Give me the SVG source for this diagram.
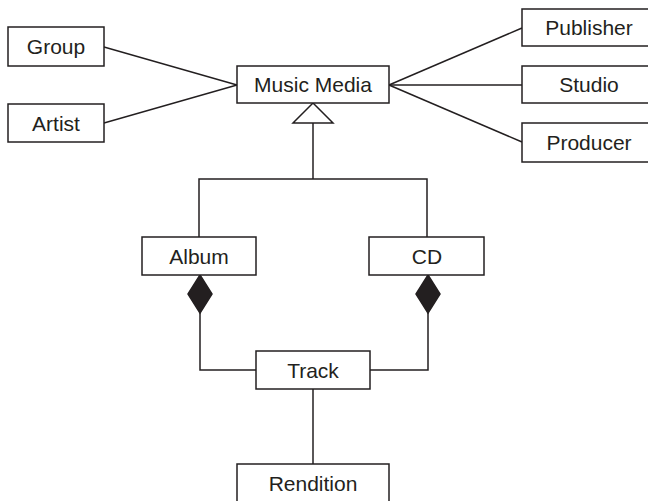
<svg xmlns="http://www.w3.org/2000/svg" width="648" height="501" viewBox="0 0 648 501">
<style>
.box{fill:#fff;stroke:#231f20;stroke-width:1.5}
.lbl{font-family:"Liberation Sans",Arial,sans-serif;font-size:21px;fill:#231f20;text-anchor:middle}
.ln{fill:none;stroke:#231f20;stroke-width:1.5}
</style>
<rect width="648" height="501" fill="#fff"/>
<g id="connectors">
<line class="ln" x1="104" y1="47" x2="237" y2="85"/>
<line class="ln" x1="104" y1="123" x2="237" y2="85"/>
<line class="ln" x1="389" y1="85" x2="522" y2="28"/>
<line class="ln" x1="389" y1="85" x2="522" y2="85"/>
<line class="ln" x1="389" y1="85" x2="522" y2="142"/>
<polygon class="ln" points="313,103 333,123 293,123" style="fill:#fff"/>
<polyline class="ln" points="313,123 313,179"/>
<polyline class="ln" points="199,237 199,179 427,179 427,237"/>
<polygon points="200,275 212,294 200,313 188,294" fill="#231f20" stroke="#231f20" stroke-width="1.5"/>
<polygon points="428,275 440,294 428,313 416,294" fill="#231f20" stroke="#231f20" stroke-width="1.5"/>
<polyline class="ln" points="200,313 200,370 256,370"/>
<polyline class="ln" points="428,313 428,370 370,370"/>
<line class="ln" x1="313" y1="389" x2="313" y2="464"/>
</g>
<g id="group"><rect class="box" x="8" y="27" width="96" height="39"/><text class="lbl" x="56" y="54">Group</text></g>
<g id="artist"><rect class="box" x="8" y="104" width="96" height="38"/><text class="lbl" x="56" y="131">Artist</text></g>
<g id="music-media"><rect class="box" x="237" y="66" width="152" height="37"/><text class="lbl" x="313" y="92">Music Media</text></g>
<g id="publisher"><rect class="box" x="522" y="9" width="130" height="37"/><text class="lbl" x="589" y="35">Publisher</text></g>
<g id="studio"><rect class="box" x="522" y="66" width="130" height="37"/><text class="lbl" x="589" y="92">Studio</text></g>
<g id="producer"><rect class="box" x="522" y="123" width="130" height="39"/><text class="lbl" x="589" y="150">Producer</text></g>
<g id="album"><rect class="box" x="142" y="237" width="114" height="38"/><text class="lbl" x="199" y="264">Album</text></g>
<g id="cd"><rect class="box" x="369" y="237" width="115" height="38"/><text class="lbl" x="427" y="264">CD</text></g>
<g id="track"><rect class="box" x="256" y="351" width="114" height="38"/><text class="lbl" x="313" y="378">Track</text></g>
<g id="rendition"><rect class="box" x="237" y="464" width="152" height="41"/><text class="lbl" x="313" y="491">Rendition</text></g>
</svg>
